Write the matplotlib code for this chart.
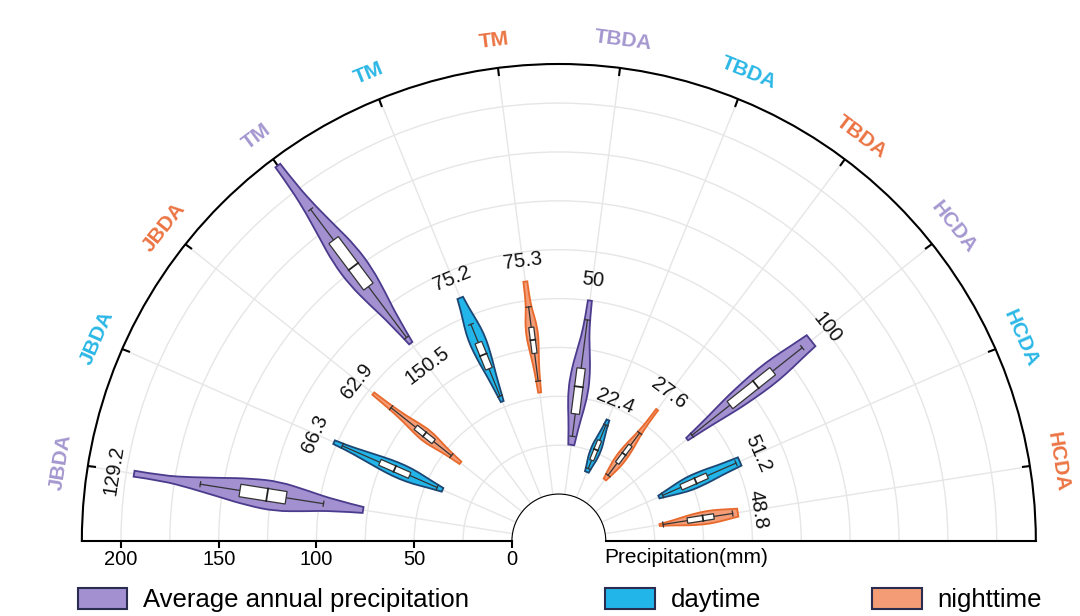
import matplotlib.pyplot as plt
import numpy as np
from matplotlib.path import Path
from matplotlib.patches import PathPatch, Patch

plt.rcParams['font.family'] = ['Liberation Sans', 'DejaVu Sans']

# ---- data, order: group x series ----
groups = ['JBDA', 'TM', 'TBDA', 'HCDA']
series = ['Average annual precipitation', 'daytime', 'nighttime']

meanLabels = [129.2, 66.3, 62.9, 150.5, 75.2, 75.3, 50, 22.4, 27.6, 100, 51.2, 48.8]
vmin = [77.4, 41.0, 40.3, 102.4, 53.0, 52.6, 25.6, 14.1, 15.3, 59.8, 31.9, 28.2]
vmax = [196.0, 101.6, 97.2, 215.9, 110.2, 109.8, 100.0, 42.8, 59.9, 140.8, 77.1, 68.7]
q1 = [117.3, 59.4, 57.8, 138.6, 71.1, 72.8, 41.6, 20.6, 25.8, 87.8, 44.3, 42.6]
median = [127.1, 67.7, 63.7, 151.4, 78.8, 79.7, 55.6, 26.4, 31.6, 104.7, 52.4, 50.6]
q3 = [141.2, 76.0, 69.5, 168.3, 85.5, 86.2, 65.1, 31.5, 37.1, 115.7, 58.9, 56.3]
whiskLo = [97.9, 44.0, 46.2, 106.0, 56.0, 58.5, 30.0, 16.0, 18.0, 63.0, 34.0, 30.0]
whiskHi = [161.7, 97.0, 85.6, 187.9, 95.6, 96.7, 90.0, 40.0, 45.0, 135.0, 75.0, 66.0]

# density profile of each violin, 9 values from min to max
density = [
    [3, 5.5, 10.5, 15, 13.5, 9.5, 5.5, 2.5, 3],
    [2, 4, 6.5, 7.5, 7, 5.5, 4, 2.5, 2],
    [1.5, 2.5, 4.5, 6.5, 5.5, 3.5, 2.5, 1.8, 1.5],
    [2, 5, 10, 14, 14, 10, 6, 3.5, 3],
    [1.5, 3, 4.5, 6.5, 8, 8.5, 7, 4.5, 3],
    [1.5, 2, 3, 4.5, 6, 5.5, 3, 2, 2],
    [3, 5, 8, 10, 9.5, 7, 4, 2.5, 2],
    [2, 3, 4.5, 5, 5, 4, 3, 2, 1.5],
    [1.5, 3.5, 5, 5, 4, 2.5, 1.5, 1.2, 1.2],
    [1.5, 3.5, 6, 8.5, 10, 11, 10.5, 8.5, 7],
    [1.5, 3.5, 5.5, 7, 7, 6.5, 5.5, 5, 4.5],
    [1, 2, 3.5, 5, 6, 6.5, 6, 5, 4],
]

fillColors = ['#a290d0', '#22b5ea', '#f39c76']
edgeColors = ['#4b3b8c', '#1d4673', '#e8692c']
labelColors = ['#a597cf', '#2bb7e6', '#eb7443']
legendEdge = '#2a2d4f'

R_MAX = 220
R_ORIGIN = -24

fig = plt.figure(figsize=(10.8, 6.16), dpi=100)
# square axes; the half disc sits in its middle band
ax = fig.add_axes([0.0758, -0.2654, 0.8833, 1.5487], projection='polar')
ax.set_thetamin(0)
ax.set_thetamax(180)
ax.set_rlim(0, R_MAX)
ax.set_rorigin(R_ORIGIN)

pos = ax.get_position()
pxPerUnit = pos.width * fig.get_figwidth() * fig.dpi / 2 / (R_MAX - R_ORIGIN)

nCat = len(groups) * len(series)
thetas = np.deg2rad(np.linspace(171, 9, nCat))


def angOffset(halfPx, r):
    return halfPx / pxPerUnit / (np.asarray(r) - R_ORIGIN)


def smoothSide(pts, firstCode):
    verts = [pts[0]]
    codes = [firstCode]
    for i in range(1, len(pts) - 1):
        end = pts[-1] if i == len(pts) - 2 else (pts[i] + pts[i + 1]) / 2
        verts += [pts[i], end]
        codes += [Path.CURVE3, Path.CURVE3]
    return verts, codes


def drawViolin(theta, lo, hi, dens, fc, ec):
    r = np.linspace(lo, hi, len(dens))
    d = angOffset(np.array(dens, dtype=float), r)
    sideA = np.column_stack([theta - d, r])
    sideB = np.column_stack([theta + d, r])[::-1]
    vA, cA = smoothSide(sideA, Path.MOVETO)
    vB, cB = smoothSide(sideB, Path.LINETO)
    verts = vA + vB + [sideA[0]]
    codes = cA + cB + [Path.CLOSEPOLY]
    ax.add_patch(PathPatch(Path(verts, codes), facecolor=fc, edgecolor=ec,
                           linewidth=1.3, zorder=3))


boxEdge = '#333333'
for k in range(nCat):
    s = k % len(series)
    th = thetas[k]
    drawViolin(th, vmin[k], vmax[k], density[k], fillColors[s], edgeColors[s])

    # whiskers
    ax.plot([th, th], [whiskLo[k], whiskHi[k]], color=boxEdge, lw=0.9, zorder=4)
    for w in (whiskLo[k], whiskHi[k]):
        dw = angOffset(2.5, w)
        ax.plot([th - dw, th + dw], [w, w], color=boxEdge, lw=0.9, zorder=4)

    # box
    boxHalf = 0.42 * max(density[k])
    d1, d3 = angOffset(boxHalf, q1[k]), angOffset(boxHalf, q3[k])
    ax.fill([th - d1, th + d1, th + d3, th - d3], [q1[k], q1[k], q3[k], q3[k]],
            facecolor='white', edgecolor=boxEdge, lw=0.9, zorder=5)
    dm = angOffset(boxHalf, median[k])
    ax.plot([th - dm, th + dm], [median[k], median[k]], color='#222222', lw=1.3, zorder=6)

    # value label
    rl = vmax[k] + 10.5
    if rl > R_MAX - 8:
        rl = vmin[k] - 14
    ax.text(th, rl, f'{meanLabels[k]:g}', rotation=np.rad2deg(th) - 90,
            rotation_mode='anchor', ha='center', va='center', fontsize=14.5,
            color='#111111', zorder=7)

# angular axis
ax.set_xticks(thetas)
ax.set_xticklabels([g for g in groups for _ in series])
for k, lab in enumerate(ax.get_xticklabels()):
    lab.set_color(labelColors[k % len(series)])
    lab.set_fontweight('bold')
    lab.set_fontsize(15)
ax.tick_params(axis='x', bottom=False, top=True, labelrotation='auto', pad=13,
               direction='in', length=6, width=1.5, color='black')

# radial axis
ax.set_yticks(np.arange(0, 201, 50))
ax.set_yticks(np.arange(25, 200, 50), minor=True)
ax.set_yticklabels([f'{v:g}' for v in np.arange(0, 201, 50)])
ax.tick_params(axis='y', which='major', labelleft=False, labelright=True,
               left=False, right=True, direction='out', length=5, width=1.5,
               labelsize=14.5, pad=1.5)
ax.tick_params(axis='y', which='minor', left=False, right=False)
ax.grid(True, which='both', color='#e6e6e6', lw=1)
ax.set_axisbelow(True)

ax.spines['inner'].set_visible(False)
for sp in ('polar', 'start', 'end'):
    ax.spines[sp].set_linewidth(1.5)
    ax.spines[sp].set_color('black')

ax.annotate('Precipitation(mm)', xy=(0, 0), xycoords='data', xytext=(-1, -12),
            textcoords='offset points', ha='left', va='center', fontsize=15)

# legend
legendX = [77.5 / 1080, 605.4 / 1080, 872.3 / 1080]
for s, name in enumerate(series):
    h = Patch(facecolor=fillColors[s], edgecolor=legendEdge, linewidth=1.5)
    fig.legend(handles=[h], labels=[name], loc='center left',
               bbox_to_anchor=(legendX[s], 0.026), frameon=False, fontsize=18.5,
               handlelength=1.94, handleheight=0.9, handletextpad=0.6,
               borderpad=0, borderaxespad=0)

fig.savefig('out.png', dpi=100)
